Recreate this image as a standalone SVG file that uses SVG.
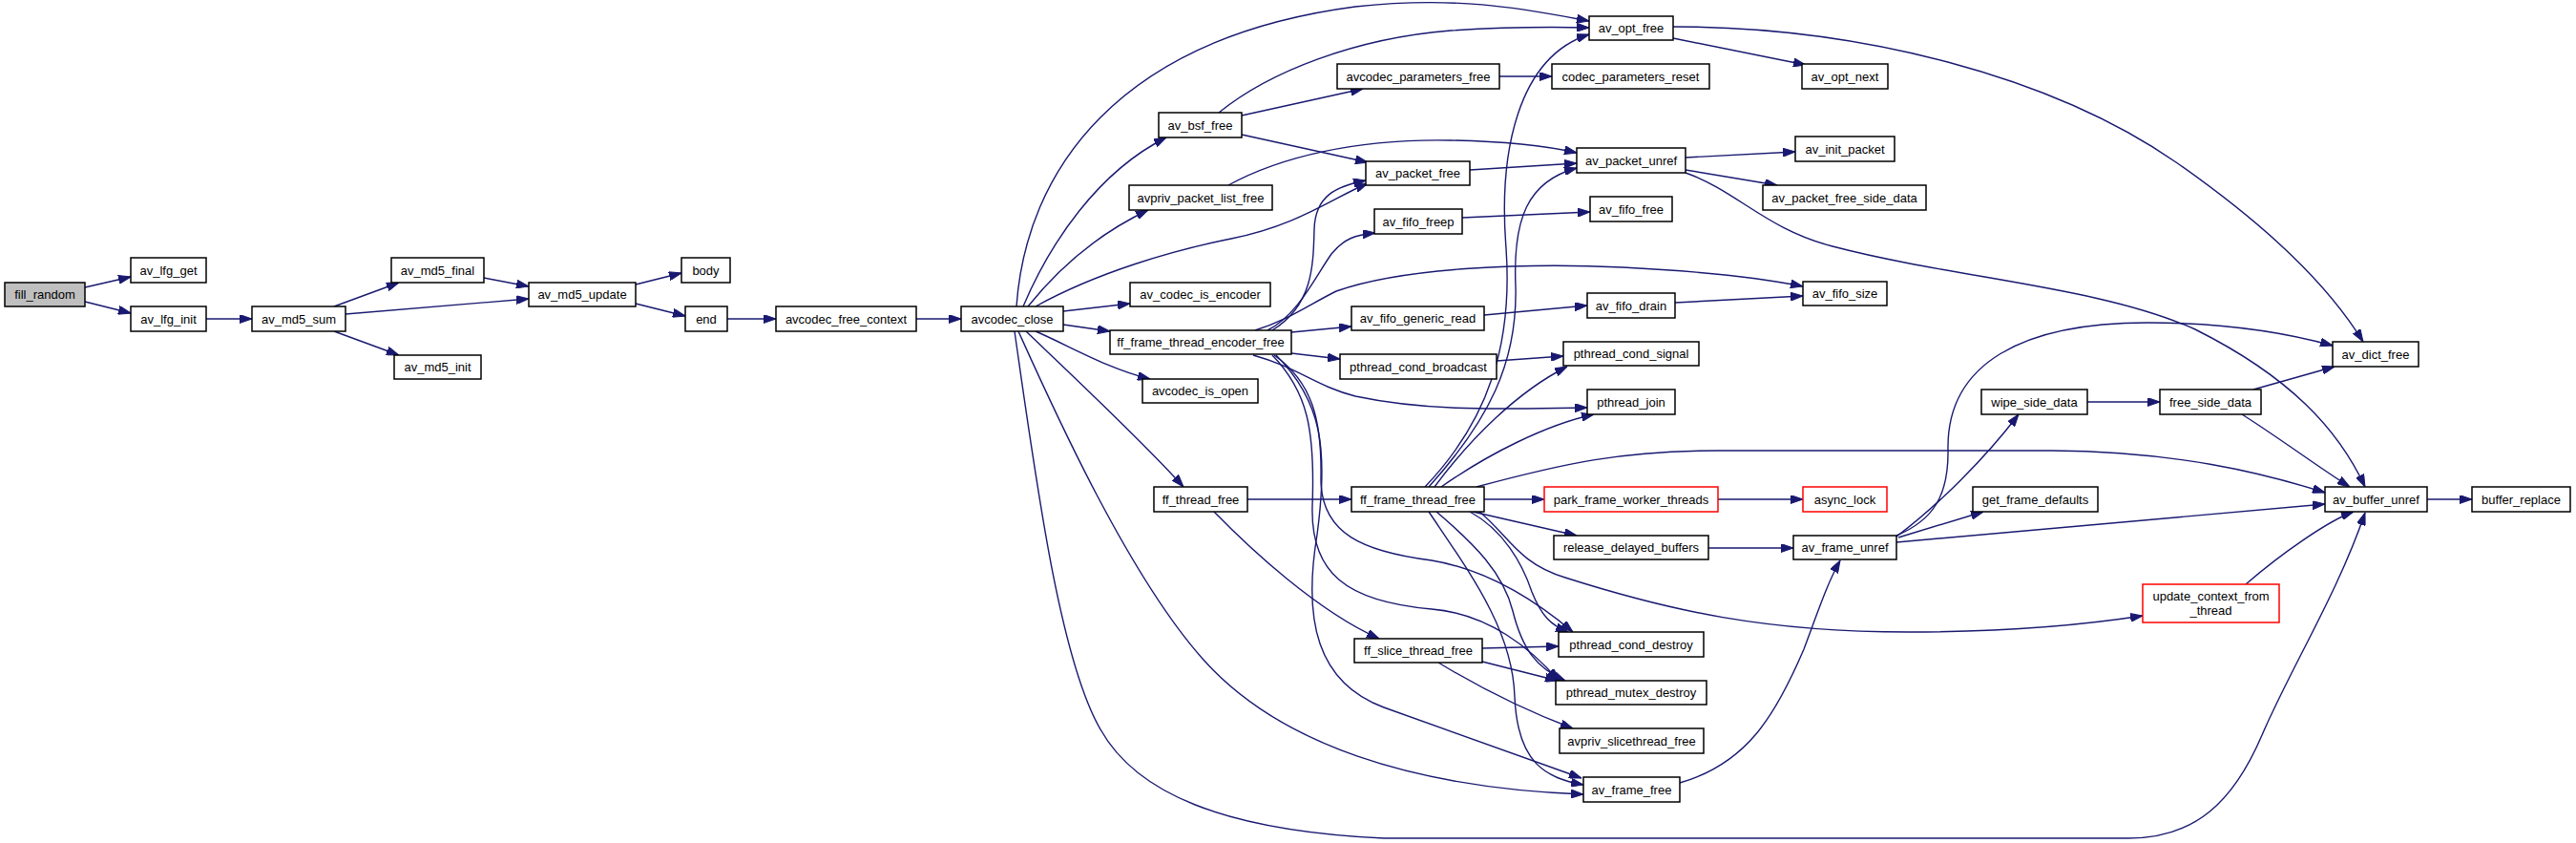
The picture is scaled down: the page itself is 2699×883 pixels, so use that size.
<svg xmlns="http://www.w3.org/2000/svg" width="2699" height="883" viewBox="0 0 2699 883">
<style>
.n rect{fill:#fff;stroke:#000;stroke-width:1.5}
.n.r rect{stroke:#f00}
.n.g rect{fill:#bfbfbf}
.n text{font-family:"Liberation Sans",Arial,sans-serif;font-size:13px;text-anchor:middle;fill:#000}
#edges path{fill:none;stroke:#191970;stroke-width:1.4;marker-end:url(#a)}
</style>
<defs>
<marker id="a" viewBox="0 0 13 9" refX="13" refY="4.5" markerWidth="13" markerHeight="9" orient="auto" markerUnits="userSpaceOnUse">
<path d="M0,0 L13,4.5 L0,9 z" fill="#191970" stroke="#191970" stroke-width="1"/>
</marker>
</defs>
<rect x="0" y="0" width="2699" height="883" fill="#fff"/>
<g id="edges">
<path d="M89,301 L137,290"/>
<path d="M89,316 L137,328"/>
<path d="M216,334 L264,334"/>
<path d="M350,321 L418,296"/>
<path d="M362,329 L554,313"/>
<path d="M350,347 L418,372"/>
<path d="M507,291 L554,300"/>
<path d="M666,298 L714,286"/>
<path d="M666,318 L718,331"/>
<path d="M762,334 L813,334"/>
<path d="M960,334 L1007,334"/>
<path d="M1114,326 L1184,318"/>
<path d="M1114,340 L1163,347"/>
<path d="M1085,347 C1120,362 1160,386 1205,397"/>
<path d="M1075,347 C1120,390 1200,465 1240,510"/>
<path d="M1067,347 C1100,420 1180,600 1260,690 C1340,780 1480,825 1659,832"/>
<path d="M1063,347 C1085,500 1110,690 1153,764 C1190,830 1280,870 1450,878 L2230,878 C2300,878 2340,840 2370,770 C2400,700 2450,620 2478,537"/>
<path d="M1065,321 C1075,180 1170,40 1420,7 C1530,-5 1600,10 1665,22"/>
<path d="M1072,321 C1100,255 1150,180 1222,144"/>
<path d="M1077,321 C1110,280 1150,245 1203,220"/>
<path d="M1085,321 C1150,285 1230,262 1290,250 C1360,236 1395,208 1433,192"/>
<path d="M1277,118 C1330,75 1420,40 1520,32 C1580,28 1620,28 1665,29"/>
<path d="M1301,121 L1428,93"/>
<path d="M1301,141 L1433,170"/>
<path d="M1571,80 L1626,80"/>
<path d="M1287,194 C1340,165 1420,145 1520,147 C1580,148 1620,153 1652,160"/>
<path d="M1540,178 L1652,171"/>
<path d="M1753,40 L1892,68"/>
<path d="M1753,28 C1950,28 2150,80 2280,170 C2380,240 2440,300 2476,358"/>
<path d="M1766,165 L1881,159"/>
<path d="M1766,178 L1862,194"/>
<path d="M1766,181 C1820,200 1850,240 1920,258 C2050,292 2200,300 2300,345 C2400,395 2450,450 2478,510"/>
<path d="M1532,228 L1666,222"/>
<path d="M1555,330 L1663,320"/>
<path d="M1755,317 L1889,310"/>
<path d="M1328,346 C1360,330 1378,290 1395,266 C1408,250 1420,246 1441,244"/>
<path d="M1333,346 C1375,320 1376,280 1377,240 C1378,205 1400,195 1431,189"/>
<path d="M1315,346 C1350,335 1370,320 1400,305 C1470,280 1600,275 1700,280 C1780,284 1840,290 1889,300"/>
<path d="M1353,348 L1416,342"/>
<path d="M1353,370 L1404,376"/>
<path d="M1313,372 C1360,385 1380,405 1420,415 C1500,432 1580,428 1663,427"/>
<path d="M1335,372 C1375,400 1385,440 1384,500 C1383,560 1430,578 1500,587 C1560,597 1610,630 1648,662"/>
<path d="M1333,372 C1370,410 1378,450 1375,530 C1373,600 1410,630 1500,638 C1560,643 1605,680 1633,713"/>
<path d="M1337,372 C1385,420 1392,470 1380,560 C1365,650 1380,715 1450,741 C1530,770 1600,795 1657,815"/>
<path d="M1568,378 L1638,373"/>
<path d="M1307,523 L1416,523"/>
<path d="M1272,536 C1310,575 1380,640 1445,669"/>
<path d="M1497,510 C1560,440 1590,380 1588,300 C1585,230 1600,190 1652,176"/>
<path d="M1493,510 C1560,440 1585,360 1578,260 C1570,160 1590,60 1665,36"/>
<path d="M1503,510 C1540,460 1590,410 1642,384"/>
<path d="M1510,510 C1560,475 1620,445 1670,434"/>
<path d="M1547,510 C1640,485 1700,472 1800,472 L2150,472 C2280,473 2370,495 2436,516"/>
<path d="M1555,523 L1618,523"/>
<path d="M1800,523 L1889,523"/>
<path d="M1543,536 L1652,561"/>
<path d="M1550,536 C1580,560 1590,590 1640,605 C1750,640 1850,662 2000,662 C2100,662 2180,655 2245,645"/>
<path d="M1540,536 C1575,555 1595,590 1605,620 C1615,645 1625,655 1643,662"/>
<path d="M1505,536 C1545,570 1575,600 1585,640 C1595,680 1610,700 1640,713"/>
<path d="M1497,536 C1540,600 1585,660 1587,730 C1590,800 1620,815 1659,822"/>
<path d="M1553,679 L1633,677"/>
<path d="M1553,693 L1632,713"/>
<path d="M1507,694 C1550,720 1600,745 1648,763"/>
<path d="M1790,574 L1879,574"/>
<path d="M1760,820 C1830,800 1860,750 1890,680 C1905,640 1915,610 1928,587"/>
<path d="M1987,562 C2030,530 2080,480 2115,434"/>
<path d="M1987,561 C2025,545 2042,520 2041,470 C2040,380 2120,338 2250,338 C2330,338 2390,347 2444,362"/>
<path d="M1989,563 L2078,536"/>
<path d="M1987,568 L2436,528"/>
<path d="M2187,421 L2263,421"/>
<path d="M2361,408 L2446,384"/>
<path d="M2349,434 C2390,460 2430,490 2462,510"/>
<path d="M2353,612 C2390,580 2440,545 2466,536"/>
<path d="M2543,523 L2590,523"/>
</g>
<g id="fill_random" class="n g"><rect x="5" y="296" width="84" height="25"/><text x="47" y="313">fill_random</text></g>
<g id="av_lfg_get" class="n"><rect x="137" y="270" width="79" height="26"/><text x="176.5" y="287.5">av_lfg_get</text></g>
<g id="av_lfg_init" class="n"><rect x="137" y="321" width="79" height="26"/><text x="176.5" y="338.5">av_lfg_init</text></g>
<g id="av_md5_sum" class="n"><rect x="264" y="321" width="98" height="26"/><text x="313" y="338.5">av_md5_sum</text></g>
<g id="av_md5_final" class="n"><rect x="410" y="270" width="97" height="26"/><text x="458.5" y="287.5">av_md5_final</text></g>
<g id="av_md5_update" class="n"><rect x="554" y="296" width="112" height="25"/><text x="610" y="313">av_md5_update</text></g>
<g id="av_md5_init" class="n"><rect x="413" y="372" width="91" height="25"/><text x="458.5" y="389">av_md5_init</text></g>
<g id="body" class="n"><rect x="714" y="270" width="51" height="26"/><text x="739.5" y="287.5">body</text></g>
<g id="end" class="n"><rect x="718" y="321" width="44" height="26"/><text x="740" y="338.5">end</text></g>
<g id="avcodec_free_context" class="n"><rect x="813" y="321" width="147" height="26"/><text x="886.5" y="338.5">avcodec_free_context</text></g>
<g id="avcodec_close" class="n"><rect x="1007" y="321" width="107" height="26"/><text x="1060.5" y="338.5">avcodec_close</text></g>
<g id="av_codec_is_encoder" class="n"><rect x="1184" y="296" width="147" height="25"/><text x="1257.5" y="313">av_codec_is_encoder</text></g>
<g id="ff_frame_thread_encoder_free" class="n"><rect x="1163" y="346" width="190" height="25"/><text x="1258" y="363">ff_frame_thread_encoder_free</text></g>
<g id="avcodec_is_open" class="n"><rect x="1197" y="397" width="121" height="25"/><text x="1257.5" y="414">avcodec_is_open</text></g>
<g id="av_opt_free" class="n"><rect x="1665" y="17" width="88" height="25"/><text x="1709" y="34">av_opt_free</text></g>
<g id="avcodec_parameters_free" class="n"><rect x="1401" y="67" width="170" height="26"/><text x="1486" y="84.5">avcodec_parameters_free</text></g>
<g id="codec_parameters_reset" class="n"><rect x="1626" y="67" width="165" height="26"/><text x="1708.5" y="84.5">codec_parameters_reset</text></g>
<g id="av_opt_next" class="n"><rect x="1888" y="67" width="90" height="26"/><text x="1933" y="84.5">av_opt_next</text></g>
<g id="av_bsf_free" class="n"><rect x="1214" y="118" width="87" height="26"/><text x="1257.5" y="135.5">av_bsf_free</text></g>
<g id="av_packet_unref" class="n"><rect x="1652" y="155" width="114" height="26"/><text x="1709" y="172.5">av_packet_unref</text></g>
<g id="av_init_packet" class="n"><rect x="1881" y="143" width="104" height="26"/><text x="1933" y="160.5">av_init_packet</text></g>
<g id="av_packet_free" class="n"><rect x="1431" y="169" width="109" height="25"/><text x="1485.5" y="186">av_packet_free</text></g>
<g id="avpriv_packet_list_free" class="n"><rect x="1183" y="194" width="150" height="26"/><text x="1258" y="211.5">avpriv_packet_list_free</text></g>
<g id="av_packet_free_side_data" class="n"><rect x="1847" y="194" width="171" height="26"/><text x="1932.5" y="211.5">av_packet_free_side_data</text></g>
<g id="av_fifo_free" class="n"><rect x="1666" y="206" width="86" height="26"/><text x="1709" y="223.5">av_fifo_free</text></g>
<g id="av_fifo_freep" class="n"><rect x="1440" y="219" width="92" height="26"/><text x="1486" y="236.5">av_fifo_freep</text></g>
<g id="av_fifo_size" class="n"><rect x="1889" y="295" width="88" height="25"/><text x="1933" y="312">av_fifo_size</text></g>
<g id="av_fifo_drain" class="n"><rect x="1663" y="307" width="92" height="26"/><text x="1709" y="324.5">av_fifo_drain</text></g>
<g id="av_fifo_generic_read" class="n"><rect x="1416" y="321" width="139" height="25"/><text x="1485.5" y="338">av_fifo_generic_read</text></g>
<g id="pthread_cond_signal" class="n"><rect x="1638" y="358" width="142" height="25"/><text x="1709" y="375">pthread_cond_signal</text></g>
<g id="pthread_cond_broadcast" class="n"><rect x="1404" y="371" width="164" height="26"/><text x="1486" y="388.5">pthread_cond_broadcast</text></g>
<g id="pthread_join" class="n"><rect x="1663" y="408" width="92" height="26"/><text x="1709" y="425.5">pthread_join</text></g>
<g id="ff_thread_free" class="n"><rect x="1209" y="510" width="98" height="26"/><text x="1258" y="527.5">ff_thread_free</text></g>
<g id="ff_frame_thread_free" class="n"><rect x="1416" y="510" width="139" height="26"/><text x="1485.5" y="527.5">ff_frame_thread_free</text></g>
<g id="park_frame_worker_threads" class="n r"><rect x="1618" y="510" width="182" height="26"/><text x="1709" y="527.5">park_frame_worker_threads</text></g>
<g id="async_lock" class="n r"><rect x="1889" y="510" width="88" height="26"/><text x="1933" y="527.5">async_lock</text></g>
<g id="release_delayed_buffers" class="n"><rect x="1628" y="561" width="162" height="25"/><text x="1709" y="578">release_delayed_buffers</text></g>
<g id="av_frame_unref" class="n"><rect x="1879" y="561" width="108" height="25"/><text x="1933" y="578">av_frame_unref</text></g>
<g id="ff_slice_thread_free" class="n"><rect x="1419" y="669" width="134" height="25"/><text x="1486" y="686">ff_slice_thread_free</text></g>
<g id="pthread_cond_destroy" class="n"><rect x="1633" y="662" width="152" height="26"/><text x="1709" y="679.5">pthread_cond_destroy</text></g>
<g id="pthread_mutex_destroy" class="n"><rect x="1630" y="713" width="158" height="25"/><text x="1709" y="730">pthread_mutex_destroy</text></g>
<g id="avpriv_slicethread_free" class="n"><rect x="1634" y="763" width="151" height="26"/><text x="1709.5" y="780.5">avpriv_slicethread_free</text></g>
<g id="av_frame_free" class="n"><rect x="1659" y="814" width="101" height="26"/><text x="1709.5" y="831.5">av_frame_free</text></g>
<g id="av_dict_free" class="n"><rect x="2444" y="358" width="90" height="26"/><text x="2489" y="375.5">av_dict_free</text></g>
<g id="wipe_side_data" class="n"><rect x="2076" y="408" width="111" height="26"/><text x="2131.5" y="425.5">wipe_side_data</text></g>
<g id="free_side_data" class="n"><rect x="2263" y="408" width="106" height="26"/><text x="2316" y="425.5">free_side_data</text></g>
<g id="get_frame_defaults" class="n"><rect x="2067" y="510" width="131" height="26"/><text x="2132.5" y="527.5">get_frame_defaults</text></g>
<g id="av_buffer_unref" class="n"><rect x="2436" y="510" width="107" height="26"/><text x="2489.5" y="527.5">av_buffer_unref</text></g>
<g id="buffer_replace" class="n"><rect x="2590" y="510" width="103" height="26"/><text x="2641.5" y="527.5">buffer_replace</text></g>
<g id="update_context_from_thread" class="n r"><rect x="2245" y="612" width="143" height="40"/><text x="2316.5" y="628.5">update_context_from</text><text x="2316.5" y="643.5">_thread</text></g>
</svg>
